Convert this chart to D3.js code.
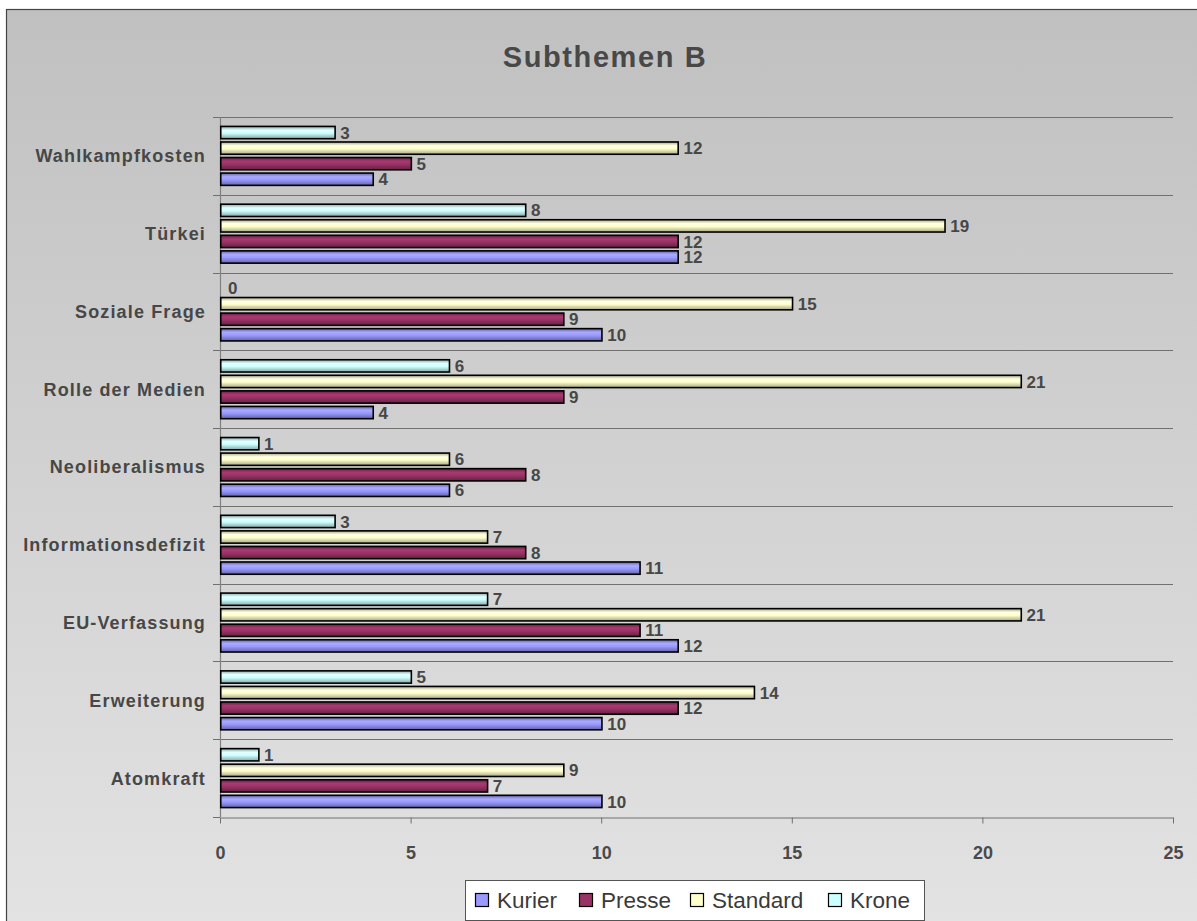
<!DOCTYPE html>
<html>
<head>
<meta charset="utf-8">
<script src="https://cdn.jsdelivr.net/npm/d3@7"></script>
<style>
html,body{margin:0;padding:0;background:#fff;}
svg{display:block;}
text{font-family:Arial,"Liberation Sans",Helvetica,sans-serif;}
</style>
</head>
<body>
<svg id="chart" width="1197" height="921"></svg>
<script>
// Data (categories listed top to bottom as in the chart)
const categories = ["Wahlkampfkosten","Türkei","Soziale Frage","Rolle der Medien","Neoliberalismus","Informationsdefizit","EU-Verfassung","Erweiterung","Atomkraft"];
const seriesNames = ["Kurier","Presse","Standard","Krone"];
const kurier   = [4, 12, 10, 4, 6, 11, 12, 10, 10];
const presse   = [5, 12, 9, 9, 8, 8, 11, 12, 7];
const standard = [12, 19, 15, 21, 6, 7, 21, 14, 9];
const krone    = [3, 8, 0, 6, 1, 3, 7, 5, 1];
const xTicks = [0, 5, 10, 15, 20, 25];
const title = "Subthemen B";

const seriesValues = {Kurier: kurier, Presse: presse, Standard: standard, Krone: krone};
const colors = {Kurier:"#9999ff", Presse:"#993366", Standard:"#ffffcc", Krone:"#ccffff"};

const svg = d3.select("#chart");
const defs = svg.append("defs");

// background gradient
const bg = defs.append("linearGradient").attr("id","bg").attr("x1",0).attr("y1",0).attr("x2",0).attr("y2",1);
bg.append("stop").attr("offset","0%").attr("stop-color","#c0c0c0");
bg.append("stop").attr("offset","100%").attr("stop-color","#e3e3e3");
svg.append("rect").attr("x",6.5).attr("y",9.5).attr("width",1197).attr("height",921)
  .attr("fill","url(#bg)").attr("stroke","#444").attr("stroke-width",1.2);

// bar gradients
seriesNames.forEach(s => {
  const c = d3.color(colors[s]);
  const g = defs.append("linearGradient").attr("id","g_"+s).attr("x1",0).attr("y1",0).attr("x2",0).attr("y2",1);
  g.append("stop").attr("offset","0%").attr("stop-color", c.darker(1.2));
  g.append("stop").attr("offset","30%").attr("stop-color", c.brighter(0.3));
  g.append("stop").attr("offset","55%").attr("stop-color", c);
  g.append("stop").attr("offset","100%").attr("stop-color", c.darker(1.2));
});

const pLeft = 220, pRight = 1173, pTop = 117, pBottom = 817;

const x = d3.scaleLinear().domain([0, 25]).range([pLeft, pRight]);
const y = d3.scaleBand().domain(categories).range([pTop, pBottom]).paddingInner(0).paddingOuter(0);
const barOrder = ["Krone","Standard","Presse","Kurier"];
const yInner = d3.scaleBand().domain(barOrder)
  .range([y.bandwidth()*0.1, y.bandwidth()*0.9]).paddingInner(0.21).paddingOuter(0.105);

// Title
svg.append("text").attr("x",605).attr("y",67).attr("text-anchor","middle")
  .attr("font-size",29).attr("font-weight","bold").attr("fill","#484848")
  .attr("letter-spacing","1.6px").text(title);

// Horizontal gridlines at category boundaries
const bounds = categories.map(c => y(c));
svg.append("g").selectAll("line").data(bounds).join("line")
  .attr("x1",pLeft-7).attr("x2",pRight).attr("y1",d=>Math.round(d)+0.5).attr("y2",d=>Math.round(d)+0.5)
  .attr("stroke","#707070").attr("stroke-width",1);

// Left axis line
svg.append("line").attr("x1",pLeft+0.5).attr("x2",pLeft+0.5).attr("y1",pTop).attr("y2",pBottom)
  .attr("stroke","#808080").attr("stroke-width",1.2);

// Bottom axis
const xAxis = d3.axisBottom(x).tickValues(xTicks).tickSize(6).tickSizeOuter(0).tickFormat(d3.format("d"));
const gx = svg.append("g").attr("transform",`translate(0,${Math.round(pBottom)+0.5})`).call(xAxis);
gx.select(".domain").attr("stroke","#707070");
gx.selectAll(".tick line").attr("stroke","#707070");
gx.selectAll(".tick text").attr("y",29).attr("font-size",18).attr("font-weight","bold")
  .attr("fill","#4a4a4a").attr("font-family","Arial, 'Liberation Sans', sans-serif");
svg.append("line").attr("x1",pLeft-7).attr("x2",pLeft).attr("y1",Math.round(pBottom)+0.5).attr("y2",Math.round(pBottom)+0.5)
  .attr("stroke","#707070");

// Category labels
svg.append("g").selectAll("text").data(categories).join("text")
  .attr("x",206).attr("y",d=>y(d)+y.bandwidth()/2).attr("dy","0.36em")
  .attr("text-anchor","end").attr("font-size",18).attr("font-weight","bold")
  .attr("letter-spacing","1.15px").attr("fill","#474747").text(d=>d);

// Bars
const rows = [];
categories.forEach((c,i) => barOrder.forEach(s => rows.push({cat:c, s, v: seriesValues[s][i]})));

const gb = svg.append("g");
gb.selectAll("rect").data(rows).join("rect")
  .attr("x", x(0)+0.75)
  .attr("y", d => y(d.cat) + yInner(d.s))
  .attr("width", d => Math.max(0, x(d.v) - x(0)))
  .attr("height", yInner.bandwidth())
  .attr("fill", d => "url(#g_"+d.s+")")
  .attr("stroke","#000").attr("stroke-width", d => d.v > 0 ? 1.6 : 0);

// Value labels
gb.selectAll("text").data(rows).join("text")
  .attr("x", d => x(d.v) + (d.v > 0 ? 6 : 8))
  .attr("y", d => y(d.cat) + yInner(d.s) + yInner.bandwidth()/2)
  .attr("dy","0.36em")
  .attr("font-size",17).attr("font-weight","bold").attr("fill","#474747")
  .text(d => d.v);

// Legend
const lg = svg.append("g");
lg.append("rect").attr("x",465.5).attr("y",880.5).attr("width",459).attr("height",40)
  .attr("fill","#fff").attr("stroke","#555").attr("stroke-width",1);
const legendX = [475, 579, 690, 828];
seriesNames.forEach((s,i) => {
  lg.append("rect").attr("x",legendX[i]+0.5).attr("y",893.5).attr("width",13).attr("height",13)
    .attr("fill",colors[s]).attr("stroke","#000").attr("stroke-width",1.2);
  lg.append("text").attr("x",legendX[i]+22).attr("y",907.5).attr("font-size",22.5)
    .attr("fill","#3a3a3a").text(s);
});
</script>
</body>
</html>
